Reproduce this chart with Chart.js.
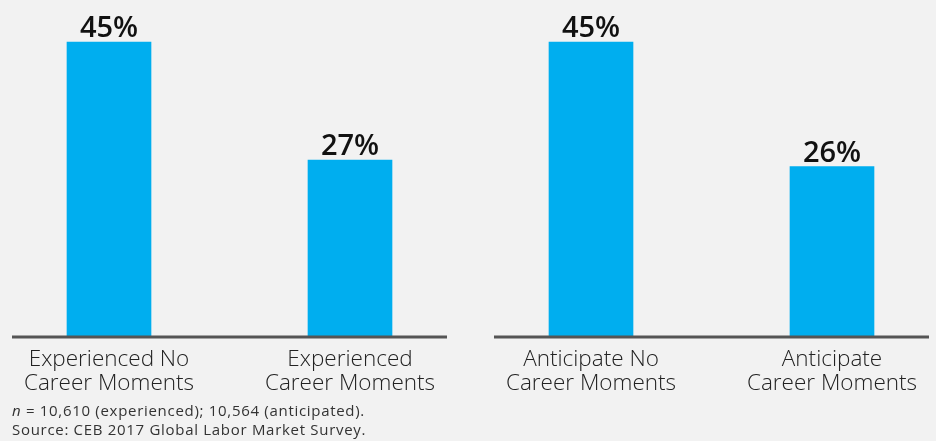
<!DOCTYPE html>
<html>
<head>
<meta charset="utf-8">
<script src="https://cdn.jsdelivr.net/npm/chart.js@4.4.0/dist/chart.umd.min.js"></script>
<style>
  html, body { margin: 0; padding: 0; background: #f2f2f2; }
  #wrap { position: relative; width: 936px; height: 441px; }
  #note {
    position: absolute; left: 12px; top: 401px;
    font-family: "Open Sans", sans-serif; font-size: 15px; line-height: 19px;
    letter-spacing: 0.7px; color: #333;
  }
</style>
</head>
<body>
<div id="wrap">
  <canvas id="chart" width="936" height="441"></canvas>
  <div id="note"><i>n</i> = 10,610 (experienced); 10,564 (anticipated).<br>Source: CEB 2017 Global Labor Market Survey.</div>
</div>
<script>
// categories and values (percent)
const categories = [
    ['Experienced No', 'Career Moments'],
    ['Experienced', 'Career Moments'],
    ['Anticipate No', 'Career Moments'],
    ['Anticipate', 'Career Moments']
];
const shares = [45, 27, 45, 26];
// each panel spans these two category indexes
const panels = [[0, 1], [2, 3]];

const barColor = '#00aeef';
const edge = 0.4025;   // how far a panel's baseline runs past its outer bars

// percentage labels above bars + split baselines
const decorPlugin = {
    id: 'decor',
    afterDatasetsDraw(chart) {
        const { ctx } = chart;
        const xs = chart.scales.x;
        const ys = chart.scales.y;
        const y0 = ys.getPixelForValue(0);

        ctx.save();
        ctx.strokeStyle = '#555555';
        ctx.lineWidth = 3;
        panels.forEach(([a, b]) => {
            ctx.beginPath();
            ctx.moveTo(xs.getPixelForValue(a - edge), y0);
            ctx.lineTo(xs.getPixelForValue(b + edge), y0);
            ctx.stroke();
        });

        ctx.fillStyle = '#111111';
        ctx.font = '600 29px "Open Sans", sans-serif';
        ctx.textAlign = 'center';
        ctx.textBaseline = 'alphabetic';
        chart.getDatasetMeta(0).data.forEach((bar, i) => {
            ctx.fillText(shares[i] + '%', bar.x, bar.y - 5);
        });
        ctx.restore();
    }
};

new Chart(document.getElementById('chart'), {
    type: 'bar',
    data: {
        datasets: [{
            data: shares.map((v, i) => ({ x: i, y: v })),
            backgroundColor: barColor,
            barThickness: 84
        }]
    },
    options: {
        responsive: false,
        animation: false,
        layout: { padding: { left: 12, right: 7, top: 0, bottom: 0 } },
        plugins: { legend: { display: false }, tooltip: { enabled: false } },
        scales: {
            x: {
                type: 'linear',
                offset: false,
                min: -edge,
                max: 3 + edge,
                grid: { display: false },
                border: { display: false },
                afterBuildTicks(scale) {
                    scale.ticks = categories.map((c, i) => ({ value: i }));
                },
                afterFit(scale) { scale.height = 104; },
                ticks: {
                    autoSkip: false,
                    maxRotation: 0,
                    padding: 3,
                    color: '#222222',
                    font: { family: '"Open Sans", sans-serif', size: 22.5, weight: '300', lineHeight: 1.06 },
                    callback: (v) => categories[v] || ''
                }
            },
            y: {
                display: false,
                min: 0,
                max: 51.4
            }
        }
    },
    plugins: [decorPlugin]
});
</script>
</body>
</html>
